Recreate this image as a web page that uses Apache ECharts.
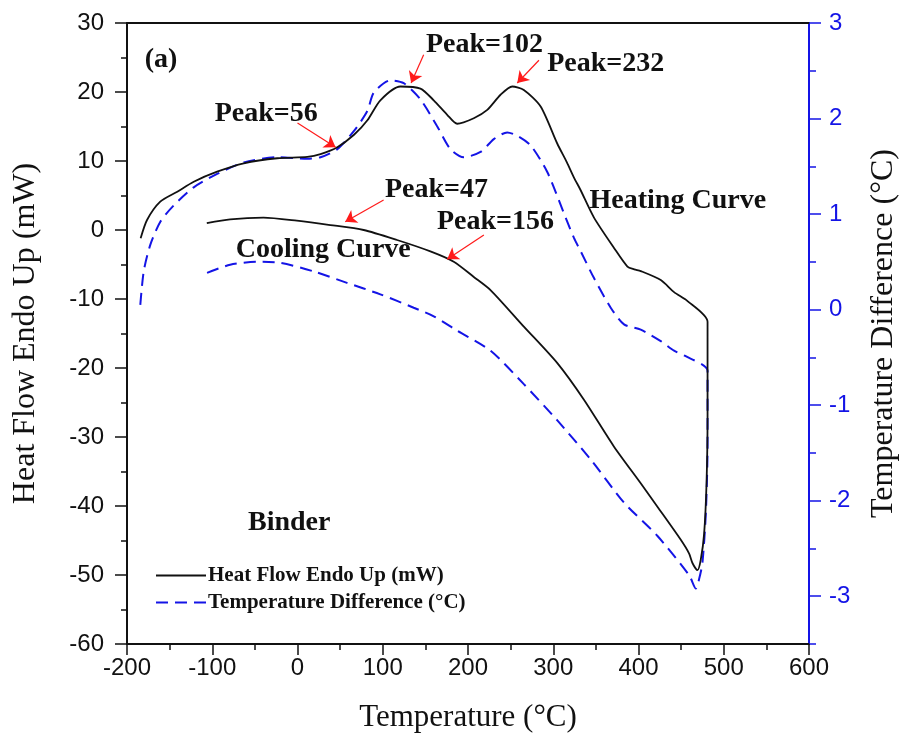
<!DOCTYPE html>
<html>
<head>
<meta charset="utf-8">
<script src="https://cdn.jsdelivr.net/npm/echarts@6/dist/echarts.min.js"></script>
<style>
html,body{margin:0;padding:0;background:#fff;}
#chart{width:905px;height:749px;}
</style>
</head>
<body>
<div id="chart"></div>
<script>
// ---- Heat flow (left axis, mW) ----
var heatHeatingX = [-184, -176.5, -161, -141, -121.7, -94.3, -63, -23.8, 11.5, 27, 46.7, 66.3, 82, 97.2, 120.7, 144.2, 159.8, 175.6, 187.3, 206.8, 222.6, 238.2, 251.9, 265.5, 285.2, 304.8, 316, 324.3, 332, 347.8, 371.3, 387, 395, 402.6, 426.1, 441.7, 457.5, 481];
var heatHeatingY = [-1.2, 1.45, 4.1, 5.55, 7.0, 8.45, 9.67, 10.4, 10.6, 11.0, 12.0, 13.8, 15.9, 18.8, 20.8, 20.5, 18.8, 16.7, 15.4, 16.2, 17.4, 19.6, 20.8, 20.3, 17.9, 12.5, 9.8, 7.6, 5.8, 1.8, -2.6, -5.3, -5.7, -5.95, -7.25, -9.0, -10.3, -13.3];
var heatDropX = [481, 479.8, 477, 473];
var heatDropY = [-27.1, -36.7, -44.0, -47.8];
var heatCoolingX = [469.2, 463.4, 459.4, 449.6, 422.2, 402.6, 371.3, 336, 304.8, 265.5, 226.4, 206.8, 183.3, 155.9, 116.8, 77.6, 38.5, -0.7, -39.9, -79, -106.4];
var heatCoolingY = [-49.3, -48.3, -46.9, -44.9, -40.1, -36.7, -31.4, -24.6, -19.3, -14.0, -8.7, -6.8, -4.6, -3.1, -1.45, 0, 0.72, 1.35, 1.8, 1.55, 1.0];

// ---- Temperature difference (right axis, °C) ----
var tempHeatingX = [-184.4, -180.4, -172.6, -160.9, -145.2, -121.7, -94.3, -63, -23.8, 11.5, 27, 46.7, 66.3, 82, 89.4, 109, 124.6, 144.2, 163.8, 179.4, 195, 214.7, 230.3, 246, 257.8, 273.4, 293, 312, 324.3, 332.2, 347.8, 367.4, 383, 402.6, 426.1, 441.7, 453.5, 481];
var tempHeatingY = [0.05, 0.40, 0.68, 0.92, 1.09, 1.28, 1.42, 1.54, 1.595, 1.58, 1.595, 1.68, 1.87, 2.08, 2.27, 2.40, 2.37, 2.20, 1.92, 1.68, 1.595, 1.65, 1.785, 1.855, 1.82, 1.72, 1.44, 1.02, 0.75, 0.61, 0.33, 0.02, -0.155, -0.21, -0.33, -0.43, -0.48, -0.64];
var tempDropX = [481, 479, 475, 471.1];
var tempDropY = [-1.43, -2.13, -2.65, -2.82];
var tempCoolingX = [467.3, 459.4, 422.3, 383, 344, 304.8, 265.5, 226.4, 187.3, 159.8, 136.3, 97.2, 58, 18.8, -20.3, -47.6, -79, -106.4];
var tempCoolingY = [-2.92, -2.78, -2.37, -2.02, -1.57, -1.16, -0.78, -0.43, -0.22, -0.07, 0.02, 0.16, 0.28, 0.40, 0.49, 0.50, 0.47, 0.383];

// ---- Axis ticks ----
var xTicks = {min: -200, max: 600, interval: 100};
var leftTicks = {min: -60, max: 30, interval: 10};
var rightTicks = {min: -3.5, max: 3, interval: 0.5};
var rightMajor = [-3, -2, -1, 0, 1, 2, 3];

// ---- Annotations (data coords on the left axis) ----
var annotText = ['(a)', 'Peak=56', 'Peak=102', 'Peak=232', 'Peak=47', 'Peak=156', 'Heating Curve', 'Cooling Curve', 'Binder'];
var annotX = [-160.1, -36.7, 219.4, 361.5, 163, 232.3, 446.1, 30.2, -9.7];
var annotY = [24.6, 16.8, 26.8, 24.1, 5.8, 1.16, 4.2, -2.9, -42.5];
// arrows: from [x1,y1] to [x2,y2]
var arrowFrom = [[0, 15.5], [148, 25.4], [283.2, 24.6], [101, 4.35], [218.6, -0.72]];
var arrowTo = [[44.7, 12.0], [133.3, 21.3], [257.8, 21.3], [56, 1.2], [175.6, -4.25]];

var seriesNames = ['Heat Flow Endo Up (mW)', 'Temperature Difference (°C)'];

function pairs(xs, ys) { return xs.map(function (x, i) { return [x, ys[i]]; }); }
var heatData = pairs(heatHeatingX, heatHeatingY).concat(pairs(heatDropX, heatDropY), pairs(heatCoolingX, heatCoolingY));
var tempData = pairs(tempHeatingX, tempHeatingY).concat(pairs(tempDropX, tempDropY), pairs(tempCoolingX, tempCoolingY));

var SERIF = '"Liberation Serif", "Times New Roman", serif';
var SANS = '"Liberation Sans", Arial, sans-serif';
var BLUE = '#1414e6';
var RED = '#ff1a1a';

var chart = echarts.init(document.getElementById('chart'), null, {renderer: 'canvas'});
var option = {
  animation: false,
  backgroundColor: '#fff',
  grid: {left: 127, right: 96, top: 23, bottom: 105, containLabel: false, outerBoundsMode: 'none'},
  legend: {
    data: seriesNames,
    orient: 'vertical',
    left: 150, top: 560,
    itemWidth: 50, itemHeight: 14, itemGap: 6,
    itemStyle: {opacity: 0},
    textStyle: {fontFamily: SERIF, fontWeight: 'bold', fontSize: 21, color: '#111', padding: [0, 0, 0, -3]}
  },
  xAxis: [{
    type: 'value', min: xTicks.min, max: xTicks.max, interval: xTicks.interval,
    name: 'Temperature (°C)', nameLocation: 'middle', nameGap: 58,
    nameTextStyle: {fontFamily: SERIF, fontSize: 31, color: '#111'},
    axisLine: {show: true, onZero: false, lineStyle: {color: '#111', width: 2}},
    axisTick: {show: true, inside: false, length: 11, lineStyle: {color: '#111', width: 1.5}},
    minorTick: {show: true, splitNumber: 2, length: 6, lineStyle: {color: '#111', width: 1.5}},
    axisLabel: {fontFamily: SANS, fontSize: 24, color: '#111', margin: 12},
    splitLine: {show: false}
  }, {
    type: 'value', position: 'top', min: xTicks.min, max: xTicks.max,
    axisLine: {show: true, onZero: false, lineStyle: {color: '#111', width: 2}},
    axisTick: {show: false}, axisLabel: {show: false}, splitLine: {show: false}
  }],
  yAxis: [{
    type: 'value', position: 'left', min: leftTicks.min, max: leftTicks.max, interval: leftTicks.interval,
    name: 'Heat Flow Endo Up (mW)', nameLocation: 'middle', nameGap: 85, nameRotate: 90,
    nameTextStyle: {fontFamily: SERIF, fontSize: 32, color: '#111'},
    axisLine: {show: true, onZero: false, lineStyle: {color: '#111', width: 2}},
    axisTick: {show: true, inside: false, length: 12, lineStyle: {color: '#111', width: 1.5}},
    minorTick: {show: true, splitNumber: 2, length: 6, lineStyle: {color: '#111', width: 1.5}},
    axisLabel: {fontFamily: SANS, fontSize: 24, color: '#111', margin: 23},
    splitLine: {show: false}
  }, {
    type: 'value', position: 'right', min: rightTicks.min, max: rightTicks.max, interval: rightTicks.interval,
    name: 'Temperature Difference (°C)', nameLocation: 'middle', nameGap: 59, nameRotate: 90,
    nameTextStyle: {fontFamily: SERIF, fontSize: 32, color: '#111'},
    axisLine: {show: true, onZero: false, lineStyle: {color: BLUE, width: 2}},
    axisTick: {show: true, inside: false, length: 7, lineStyle: {color: BLUE, width: 1.5}},
    axisLabel: {fontFamily: SANS, fontSize: 24, color: BLUE, margin: 20,
      formatter: function (v) { return Math.abs(v - Math.round(v)) < 1e-6 ? String(Math.round(v)) : ''; }},
    splitLine: {show: false}
  }, {
    type: 'value', position: 'right', min: rightTicks.min, max: rightTicks.max, interval: rightTicks.interval,
    axisLine: {show: false, onZero: false},
    axisTick: {show: true, inside: false, length: 12, customValues: rightMajor, lineStyle: {color: BLUE, width: 1.5}},
    axisLabel: {show: false}, splitLine: {show: false}
  }],
  series: [{
    name: seriesNames[0], type: 'line', xAxisIndex: 0, yAxisIndex: 0,
    data: heatData, symbol: 'none', smooth: 0.25, clip: false,
    lineStyle: {color: '#111', width: 1.8},
    itemStyle: {color: '#111'},
    z: 3,
    markPoint: {
      silent: true, symbol: 'circle', symbolSize: 0,
      label: {show: true, position: 'inside', fontFamily: SERIF, fontWeight: 'bold', fontSize: 28, color: '#111',
        formatter: function (p) { return p.name; }},
      data: annotText.map(function (t, i) { return {name: t, coord: [annotX[i], annotY[i]]}; })
    },
    markLine: {
      silent: true, symbol: ['none', 'arrow'], symbolSize: 11, animation: false,
      lineStyle: {color: RED, type: 'solid', width: 1.2},
      itemStyle: {color: RED},
      label: {show: false},
      emphasis: {disabled: true},
      data: arrowFrom.map(function (a, i) { return [{coord: a}, {coord: arrowTo[i]}]; })
    }
  }, {
    name: seriesNames[1], type: 'line', xAxisIndex: 0, yAxisIndex: 1,
    data: tempData, symbol: 'none', smooth: 0.25, clip: false,
    lineStyle: {color: BLUE, width: 2, type: [12, 7]},
    itemStyle: {color: BLUE},
    z: 2
  }]
};
chart.setOption(option);
</script>
</body>
</html>
